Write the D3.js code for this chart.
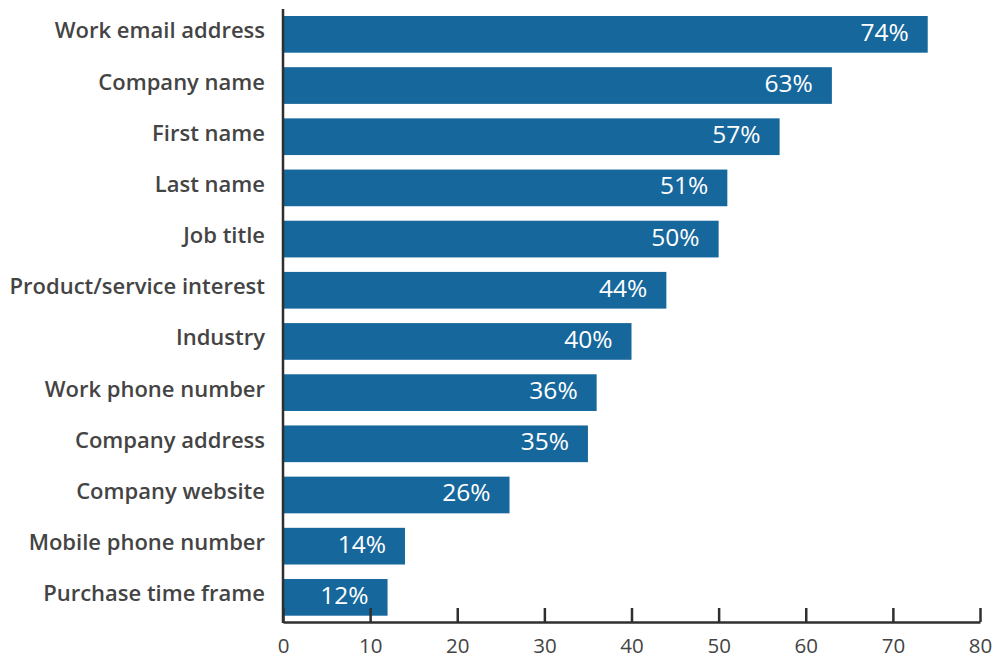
<!DOCTYPE html>
<html>
<head>
<meta charset="utf-8">
<script src="https://cdn.jsdelivr.net/npm/d3@7/dist/d3.min.js"></script>
<style>
  html, body { margin: 0; padding: 0; background: #fff; }
  svg { display: block; }
</style>
</head>
<body>
<svg id="chart" width="996" height="659"></svg>
<script>
// Form fields requested, share of forms (%)
const categories = [
  "Work email address",
  "Company name",
  "First name",
  "Last name",
  "Job title",
  "Product/service interest",
  "Industry",
  "Work phone number",
  "Company address",
  "Company website",
  "Mobile phone number",
  "Purchase time frame"
];
const values = [74, 63, 57, 51, 50, 44, 40, 36, 35, 26, 14, 12];
const xTicks = [0, 10, 20, 30, 40, 50, 60, 70, 80];

const data = categories.map((c, i) => ({ name: c, value: values[i] }));

const svg = d3.select("#chart");
const barColor = "#16679c";
const axisColor = "#2f2f2f";
const textColor = "#444444";

const x = d3.scaleLinear().domain([0, 80]).range([283, 980]);
const y = d3.scaleBand()
  .domain(categories)
  .range([16, 615.7])
  .paddingInner(0.283)
  .paddingOuter(0);

// Bars
svg.append("g")
  .selectAll("rect")
  .data(data)
  .join("rect")
  .attr("x", x(0))
  .attr("y", d => y(d.name))
  .attr("width", d => x(d.value) - x(0))
  .attr("height", y.bandwidth())
  .attr("fill", barColor);

// Value labels inside bar ends
svg.append("g")
  .selectAll("text")
  .data(data)
  .join("text")
  .attr("x", d => x(d.value) - 19)
  .attr("y", d => y(d.name) + y.bandwidth() / 2 + 6.5)
  .attr("text-anchor", "end")
  .attr("fill", "#ffffff")
  .attr("font-family", "'Open Sans', Lato, sans-serif")
  .attr("font-size", 24.5)
  .attr("font-weight", 400)
  .text(d => d.value + "%");

// Category labels
svg.append("g")
  .selectAll("text")
  .data(data)
  .join("text")
  .attr("x", 265)
  .attr("y", d => y(d.name) + y.bandwidth() / 2 + 4)
  .attr("text-anchor", "end")
  .attr("fill", textColor)
  .attr("font-family", "'Open Sans', Lato, sans-serif")
  .attr("font-size", 22)
  .attr("font-weight", 600)
  .text(d => d.name);

// Bottom axis: ticks point up into the plot
const xAxis = d3.axisBottom(x)
  .tickValues(xTicks)
  .tickSize(-14)
  .tickSizeOuter(0);

const gx = svg.append("g")
  .attr("transform", "translate(0,622)")
  .call(xAxis);
gx.select(".domain").attr("stroke", axisColor).attr("stroke-width", 2.5);
gx.selectAll(".tick line").attr("stroke", axisColor).attr("stroke-width", 2.5);
gx.selectAll(".tick text")
  .attr("y", 30.5)
  .attr("dy", 0)
  .attr("fill", textColor)
  .attr("font-family", "'Open Sans', Lato, sans-serif")
  .attr("font-size", 20.5)
  .attr("font-weight", 400);

// Left axis line
svg.append("line")
  .attr("x1", x(0)).attr("x2", x(0))
  .attr("y1", 9).attr("y2", 623)
  .attr("stroke", axisColor)
  .attr("stroke-width", 2.5);
</script>
</body>
</html>
